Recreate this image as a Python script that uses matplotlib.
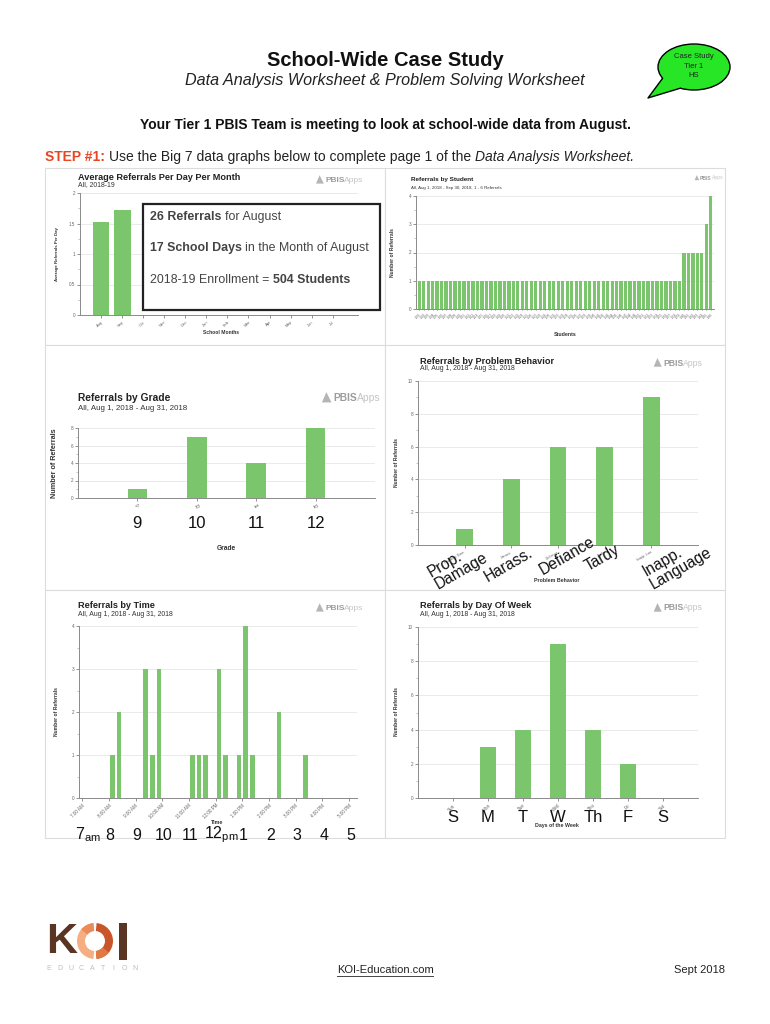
import matplotlib
matplotlib.use('Agg')
import matplotlib.pyplot as plt
from matplotlib.patches import Rectangle, Ellipse, Polygon, Wedge
from matplotlib.ticker import AutoMinorLocator, MultipleLocator, FuncFormatter
from matplotlib.transforms import blended_transform_factory
import numpy as np

plt.rcParams['font.family'] = ['Liberation Sans', 'DejaVu Sans']
plt.rcParams['mathtext.fontset'] = 'custom'
plt.rcParams['mathtext.rm'] = 'Liberation Sans'

# ---------------- data ----------------
months = ['Aug', 'Sep', 'Oct', 'Nov', 'Dec', 'Jan', 'Feb', 'Mar', 'Apr', 'May', 'Jun', 'Jul']
avg_per_day = [1.53, 1.72]

student_refs = [1, 1, 1, 1, 1, 1, 1, 1, 1, 1, 1, 1, 1, 1, 1, 1, 1, 1, 1, 1,
                1, 1, 1, 1, 1, 1, 1, 1, 1, 1, 1, 1, 1, 1, 1, 1, 1, 1, 1, 1,
                1, 1, 1, 1, 1, 1, 1, 1, 1, 1, 1, 1, 1, 1, 1, 1, 1, 1, 1,
                2, 2, 2, 2, 2, 3, 4]
student_ids = ['ID%02d' % (i + 1) for i in range(len(student_refs))]

grades = ['9', '10', '11', '12']
grade_refs = [1, 7, 4, 8]

behaviors = ['Property Dam.', 'Harass.', 'Defiance', 'Tardy', 'Inapp. Lan.']
behavior_big = ['Prop.\nDamage', 'Harass.', 'Defiance', 'Tardy', 'Inapp.\nLanguage']
behavior_refs = [1, 4, 6, 6, 9]

time_bins = ['8:00', '8:15', '9:15', '9:30', '9:45', '11:00', '11:15', '11:30',
             '12:00', '12:15', '12:45', '13:00', '13:15', '14:15', '15:15']
time_refs = [1, 2, 3, 1, 3, 1, 1, 1, 3, 1, 1, 4, 1, 2, 1]
hour_ticks = ['7:00 AM', '8:00 AM', '9:00 AM', '10:00 AM', '11:00 AM', '12:00 PM',
              '1:00 PM', '2:00 PM', '3:00 PM', '4:00 PM', '5:00 PM']
hour_big = ['7$_\\mathregular{am}$', '8', '9', '10', '11', '12$_\\mathregular{pm}$',
            '1', '2', '3', '4', '5']

days = ['Sun', 'Mon', 'Tue', 'Wed', 'Thu', 'Fri', 'Sat']
day_big = ['S', 'M', 'T', 'W', 'Th', 'F', 'S']
day_refs = [0, 3, 4, 9, 4, 2, 0]

# ---------------- figure ----------------
W, H = 770, 1024
fig = plt.figure(figsize=(7.7, 10.24), dpi=100)
bg = fig.add_axes([0, 0, 1, 1], zorder=0)
ov = fig.add_axes([0, 0, 1, 1], zorder=10)
for a in (bg, ov):
    a.set_xlim(0, W)
    a.set_ylim(H, 0)
    a.axis('off')
    a.patch.set_alpha(0)
renderer = fig.canvas.get_renderer()

GREEN = '#7bc66d'
TITLE_FS = 6.6
SUB_FS = 4.95


def px_axes(x0, y0, x1, y1):
    return fig.add_axes([x0 / W, 1 - y1 / H, (x1 - x0) / W, (y1 - y0) / H], zorder=2)


def twidth(s, **kw):
    t = ov.text(0, 0, s, **kw)
    w = t.get_window_extent(renderer).width
    t.remove()
    return w


def segs(x, y, parts, **common):
    for s, kw in parts:
        k = dict(common)
        k.update(kw)
        if s.startswith(' '):
            x += twidth('a a', **k) - twidth('aa', **k)
            s = s.lstrip()
        t = ov.text(x, y, s, ha='left', **k)
        x += t.get_window_extent(renderer).width
    return x


def style(ax, ymax, ystep, fmt='{:g}'):
    ax.set_facecolor('none')
    ax.set_ylim(0, ymax)
    ax.yaxis.set_major_locator(MultipleLocator(ystep))
    ax.yaxis.set_minor_locator(AutoMinorLocator(2))
    ax.yaxis.set_major_formatter(FuncFormatter(lambda v, p: fmt.format(v)))
    ax.grid(axis='y', color='#e6e6e6', lw=0.6)
    ax.set_axisbelow(True)
    for s in ('top', 'right'):
        ax.spines[s].set_visible(False)
    for s in ('left', 'bottom'):
        ax.spines[s].set_color('#8a8a8a')
        ax.spines[s].set_linewidth(0.7)
    ax.tick_params(labelsize=3.3, colors='#666', length=2, width=0.5, pad=1.5)
    ax.tick_params(which='minor', length=1.2, width=0.4, colors='#999')
    ax.tick_params(axis='x', which='minor', bottom=False)


def logo(x, y, fs):
    ov.add_patch(Polygon([(x - 1.5 * fs, y + 0.6 * fs), (x - 0.9 * fs, y - 0.8 * fs),
                          (x - 0.2 * fs, y + 0.6 * fs)], closed=True, fc='#b5b5b5', ec='none'))
    segs(x, y, [('PBIS', dict(fontweight='bold', color='#9c9c9c')),
                ('Apps', dict(color='#c4c4c4'))], fontsize=fs, va='center')


def panel_title(x, y, title, sub, fs=TITLE_FS, sfs=SUB_FS, dy=None):
    ov.text(x, y, title, fontsize=fs, fontweight='bold', color='#222', va='center')
    if dy is None:
        dy = fs * 1.35
    ov.text(x, y + dy, sub, fontsize=sfs, color='#333', va='center')


# ---------------- header ----------------
ov.text(385, 60, 'School-Wide Case Study', fontsize=14.5, fontweight='bold',
        ha='center', va='center', color='#111')
ov.text(385, 80, 'Data Analysis Worksheet & Problem Solving Worksheet', fontsize=11.6,
        style='italic', ha='center', va='center', color='#222')

# speech bubble
ov.add_patch(Ellipse((694, 67), 72, 46, fc='#26e626', ec='black', lw=1.0))
ov.add_patch(Polygon([(662, 78), (648, 98), (680, 88), (684, 74)], closed=True,
                     fc='#26e626', ec='none'))
ov.plot([662.5, 648, 680], [78.5, 98, 88.3], color='black', lw=1.0)
ov.text(694, 66, 'Case Study\nTier 1\nHS', fontsize=5.5, ha='center', va='center',
        linespacing=1.5, color='#222')

ov.text(385, 125, 'Your Tier 1 PBIS Team is meeting to look at school-wide data from August.',
        fontsize=10, fontweight='bold', ha='center', va='center', color='#111')
segs(45, 157, [('STEP #1:', dict(fontweight='bold', color='#ea4522')),
               (' Use the Big 7 data graphs below to complete page 1 of the', dict(color='#222')),
               (' Data Analysis Worksheet.', dict(style='italic', color='#222'))],
     fontsize=10, va='center')

# panel frames
for (x0, y0, x1, y1) in [(45, 168, 385, 345), (385, 168, 725, 345),
                         (45, 345, 385, 590), (385, 345, 725, 590),
                         (45, 590, 385, 838), (385, 590, 725, 838)]:
    bg.add_patch(Rectangle((x0, y0), x1 - x0, y1 - y0, fc='white', ec='#dcdcdc', lw=0.8))

# ---------------- panel 1: average per day ----------------
ax1 = px_axes(80, 193, 358, 315)
style(ax1, 2, 0.5)
ax1.bar(np.arange(len(avg_per_day)), avg_per_day, width=0.8, color=GREEN)
ax1.set_xlim(-1, 12.2)
ax1.set_xticks(np.arange(len(months)))
ax1.set_xticklabels(months, rotation=45, ha='right', rotation_mode='anchor', fontsize=3.0)
panel_title(78, 178, 'Average Referrals Per Day Per Month', 'All, 2018-19', dy=6.5)
logo(325, 180, 6.0)
ov.text(57, 254, 'Average Referrals Per Day', rotation=90, fontsize=3.2, fontweight='bold',
        ha='center', va='center', color='#333')
ov.text(221, 333, 'School Months', fontsize=3.6, fontweight='bold', ha='center',
        va='center', color='#333')
ov.add_patch(Rectangle((143, 204), 237, 106, fc='white', ec='#222', lw=1.6))
BOX_FS = 8.9
segs(150, 217, [('26 Referrals', dict(fontweight='bold')), (' for August', {})],
     fontsize=BOX_FS, va='center', color='#444')
segs(150, 248, [('17 School Days', dict(fontweight='bold')),
                (' in the Month of August', {})], fontsize=BOX_FS, va='center', color='#444')
segs(150, 280, [('2018-19 Enrollment =', {}), (' 504 Students', dict(fontweight='bold'))],
     fontsize=BOX_FS, va='center', color='#444')

# ---------------- panel 2: by student ----------------
ax2 = px_axes(416, 196, 714, 309)
style(ax2, 4, 1)
ax2.bar(np.arange(len(student_refs)), student_refs, width=0.72, color=GREEN)
ax2.set_xlim(-0.7, len(student_refs) - 0.3)
ax2.set_xticks(np.arange(len(student_refs)))
ax2.set_xticklabels(student_ids, rotation=45, ha='right', rotation_mode='anchor', fontsize=2.2)
ax2.tick_params(axis='x', length=1)
panel_title(411, 180, 'Referrals by Student',
            'All, Aug 1, 2018 - Sep 30, 2018, 1 - 6 Referrals', fs=4.6, sfs=3.2, dy=7.5)
logo(700, 178, 3.6)
ov.text(393, 253, 'Number of Referrals', rotation=90, fontsize=3.6, fontweight='bold',
        ha='center', va='center', color='#333')
ov.text(565, 334, 'Students', fontsize=3.8, fontweight='bold', ha='center', va='center',
        color='#333')

# ---------------- panel 3: by grade ----------------
ax3 = px_axes(78, 428, 375, 498)
style(ax3, 8, 2)
ax3.bar(np.arange(1, len(grades) + 1), grade_refs, width=0.33, color=GREEN)
ax3.set_xlim(0, len(grades) + 1)
ax3.set_xticks(np.arange(1, len(grades) + 1))
ax3.set_xticklabels(grades, rotation=-60, ha='left', rotation_mode='anchor')
panel_title(78, 398, 'Referrals by Grade', 'All, Aug 1, 2018 - Aug 31, 2018',
            fs=7.4, sfs=5.7, dy=11)
logo(333, 398, 7.4)
ov.text(54, 463, 'Number of Referrals', rotation=90, fontsize=5.2, fontweight='bold',
        ha='center', va='center', color='#333')
ov.text(226, 548, 'Grade', fontsize=4.8, fontweight='bold', ha='center', va='center',
        color='#333')
tr3 = blended_transform_factory(ax3.transData, ov.transData)
for i, g in enumerate(grades):
    ov.text(i + 1, 523, g, transform=tr3, fontsize=12, ha='center', va='center', color='#111')

# ---------------- panel 4: by behavior ----------------
ax4 = px_axes(418, 381, 698, 545)
style(ax4, 10, 2)
ax4.bar(np.arange(1, len(behaviors) + 1), behavior_refs, width=0.36, color=GREEN)
ax4.set_xlim(0, len(behaviors) + 1)
ax4.set_xticks(np.arange(1, len(behaviors) + 1))
ax4.set_xticklabels(behaviors, rotation=30, ha='right', rotation_mode='anchor', fontsize=2.6)
panel_title(420, 361, 'Referrals by Problem Behavior', 'All, Aug 1, 2018 - Aug 31, 2018', dy=8)
logo(663, 363, 6.2)
ov.text(397, 463, 'Number of Referrals', rotation=90, fontsize=3.6, fontweight='bold',
        ha='center', va='center', color='#333')
ov.text(557, 580, 'Problem Behavior', fontsize=3.8, fontweight='bold', ha='center',
        va='center', color='#333')
tr4 = blended_transform_factory(ax4.transData, ov.transData)
big4_dx = [-0.15, -0.05, 0.2, -0.05, 0.55]
big4_y = [565, 565, 556, 558, 562]
for i, b in enumerate(behavior_big):
    ov.text(i + 1 + big4_dx[i], big4_y[i], b, transform=tr4, fontsize=11.2, rotation=30,
            ha='center', va='center', rotation_mode='anchor', color='#111',
            linespacing=0.95, multialignment='left')

# ---------------- panel 5: by time ----------------
def hour_value(s):
    h, m = s.split(':')
    return int(h) + int(m) / 60.0

ax5 = px_axes(79, 626, 357, 798)
style(ax5, 4, 1)
tx = [hour_value(s) + 0.125 for s in time_bins]
ax5.bar(tx, time_refs, width=0.175, color=GREEN)
ax5.set_xlim(6.88, 17.3)
hours = np.arange(7, 7 + len(hour_ticks))
ax5.set_xticks(hours)
ax5.set_xticklabels(hour_ticks, rotation=45, ha='right', rotation_mode='anchor')
panel_title(78, 606, 'Referrals by Time', 'All, Aug 1, 2018 - Aug 31, 2018', dy=8)
logo(325, 608, 6.0)
ov.text(57, 712, 'Number of Referrals', rotation=90, fontsize=3.6, fontweight='bold',
        ha='center', va='center', color='#333')
ov.text(217, 822, 'Time', fontsize=3.8, fontweight='bold', ha='center', va='center',
        color='#333')
tr5 = blended_transform_factory(ax5.transData, ov.transData)
for h, lab in zip(hours, hour_big):
    off = 0.22 if 'm' in lab else 0.05
    ov.text(h + off, 835, lab, transform=tr5, fontsize=11.5, ha='center', va='center',
            color='#111')

# ---------------- panel 6: by day ----------------
ax6 = px_axes(418, 627, 698, 798)
style(ax6, 10, 2)
ax6.bar(np.arange(len(days)), day_refs, width=0.48, color=GREEN)
ax6.set_xlim(-1, len(days))
ax6.set_xticks(np.arange(len(days)))
ax6.set_xticklabels(days, rotation=45, ha='right', rotation_mode='anchor')
panel_title(420, 606, 'Referrals by Day Of Week', 'All, Aug 1, 2018 - Aug 31, 2018', dy=8)
logo(663, 608, 6.2)
ov.text(397, 712, 'Number of Referrals', rotation=90, fontsize=3.6, fontweight='bold',
        ha='center', va='center', color='#333')
ov.text(557, 826, 'Days of the Week', fontsize=3.8, fontweight='bold', ha='center',
        va='center', color='#333')
tr6 = blended_transform_factory(ax6.transData, ov.transData)
for i, d in enumerate(day_big):
    ov.text(i, 817, d, transform=tr6, fontsize=12, ha='center', va='center', color='#111')

# ---------------- footer ----------------
ov.text(46, 942, 'K', fontsize=31, fontweight='bold', color='#5a3523', ha='left',
        va='center', family=['Liberation Sans Narrow', 'Liberation Sans'])
ov.add_patch(Wedge((95, 941), 18, 95, 265, width=8, fc='#f6ad82', ec='none'))
ov.add_patch(Wedge((95, 941), 18, 275, 85, width=8, fc='#c9552a', ec='none'))
ov.add_patch(Wedge((95, 941), 18, 40, 85, width=8, fc='#e07a45', ec='none'))
ov.add_patch(Wedge((95, 941), 18, 220, 265, width=8, fc='#e98c5a', ec='none'))
ov.add_patch(Rectangle((119, 923), 8, 37, fc='#5a3523', ec='none'))
for i, ch in enumerate('EDUCATION'):
    ov.text(49 + i * 10.8, 968, ch, fontsize=5, color='#bdbdbd', ha='center', va='center')
ov.text(385, 970, 'KOI-Education.com', fontsize=8, ha='center', va='center', color='#222')
wk = twidth('KOI-Education.com', fontsize=8)
ov.plot([385 - wk / 2, 385 + wk / 2], [976, 976], color='#444', lw=0.7)
ov.text(725, 970, 'Sept 2018', fontsize=8, ha='right', va='center', color='#222')

fig.savefig('out.png', dpi=100)
